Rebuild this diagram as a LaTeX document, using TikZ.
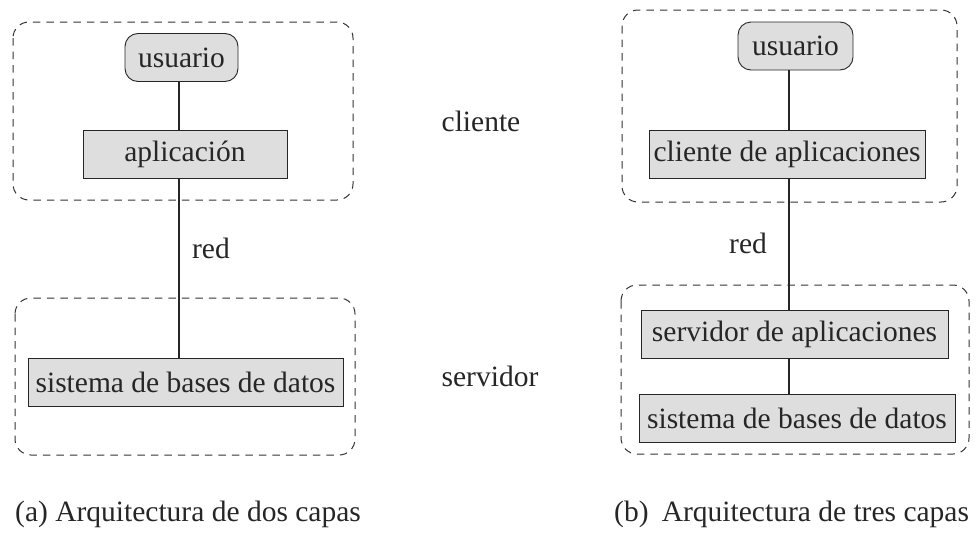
\documentclass[tikz,border=0pt]{standalone}
\usepackage{fontspec}
\setmainfont{Liberation Serif}
\begin{document}
\begin{tikzpicture}[x=1pt,y=-1pt,
  every node/.style={font=\fontsize{29.5}{33}\selectfont, text=black!85, inner sep=0pt},
  comp/.style={draw=black!85, line width=0.9pt, fill=black!13, minimum height=48pt},
  usr/.style={comp, rounded corners=13pt},
  tier/.style={draw=black!80, line width=1pt, dash pattern=on 7.5pt off 6pt, rounded corners=16pt},
  link/.style={draw=black!85, line width=1.1pt}]
\useasboundingbox (0,0) rectangle (976,533);
% left
\draw[tier] (13,22) rectangle (353,200);
\draw[tier] (15,298) rectangle (355,455);
\node[usr, minimum width=113pt] (u1) at (181.5,57.5) {usuario};
\node[comp, minimum width=204pt] (a1) at (185,154) {aplicación};
\node[comp, minimum width=315pt] (s1) at (185.5,382) {sistema de bases de datos};
\coordinate (la) at (179,0);
\draw[link] (u1.south -| la) -- (a1.north -| la);
\draw[link] (a1.south -| la) -- (s1.north -| la);
\node[anchor=base] (r1) at (211,258) {red};
% middle
\node[anchor=base] (cl) at (481,131) {cliente};
\node[anchor=base] (sv) at (490,386) {servidor};
% right
\draw[tier] (622,10) rectangle (957,202);
\draw[tier] (621,285) rectangle (969,454);
\node[usr, minimum width=115pt] (u2) at (795.5,46) {usuario};
\node[comp, minimum width=276pt] (c2) at (787,154) {cliente de aplicaciones};
\node[comp, minimum width=307pt] (sa2) at (794.5,334) {servidor de aplicaciones};
\node[comp, minimum width=316pt] (sd2) at (797,418) {sistema de bases de datos};
\coordinate (lb) at (789,0);
\draw[link] (u2.south -| lb) -- (c2.north -| lb);
\draw[link] (c2.south -| lb) -- (sa2.north -| lb);
\draw[link] (sa2.south -| lb) -- (sd2.north -| lb);
\node[anchor=base] (r2) at (748,253) {red};
% captions
\node[anchor=base west] (capa) at (15,521) {(a) Arquitectura de dos capas};
\node[anchor=base west] (capb) at (614,521) {(b)\hspace{0.45em}Arquitectura de tres capas};
\end{tikzpicture}
\end{document}
